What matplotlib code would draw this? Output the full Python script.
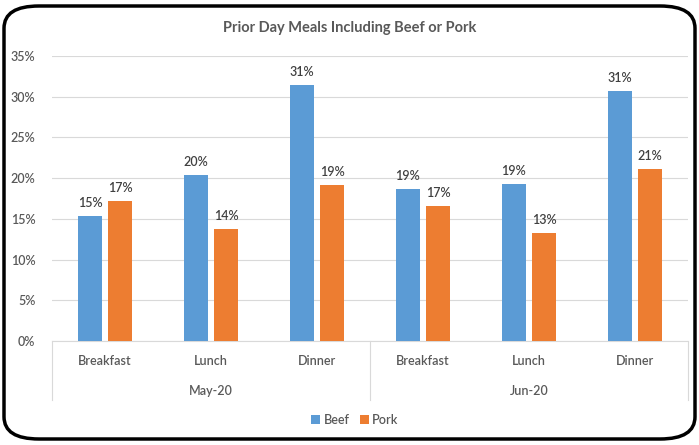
import matplotlib
matplotlib.use("Agg")
import matplotlib.pyplot as plt
import numpy as np
from matplotlib.patches import FancyBboxPatch
from matplotlib.ticker import PercentFormatter

meals = ["Breakfast", "Lunch", "Dinner", "Breakfast", "Lunch", "Dinner"]
months = ["May-20", "Jun-20"]
beef = [15.4, 20.4, 31.4, 18.7, 19.3, 30.7]
pork = [17.2, 13.7, 19.2, 16.6, 13.3, 21.1]

plt.rcParams["font.family"] = ["Lato", "DejaVu Sans"]
plt.rcParams["font.weight"] = "semibold"
BLUE, ORANGE, GRID, TXT = "#5B9BD5", "#ED7D31", "#D9D9D9", "#595959"

fig = plt.figure(figsize=(6.99, 4.45), dpi=100)
ax = fig.add_axes([52 / 699, 1 - 341 / 445, 636 / 699, 285 / 445])

x = np.arange(len(meals))
w = 0.225; off = 0.142
b1 = ax.bar(x - off, beef, w, color=BLUE, label="Beef", zorder=3)
b2 = ax.bar(x + off, pork, w, color=ORANGE, label="Pork", zorder=3)
for bars in (b1, b2):
    for r in bars:
        ax.annotate(f"{r.get_height():.0f}%", (r.get_x() + r.get_width() / 2, r.get_height()),
                    xytext=(0, 5), textcoords="offset points", ha="center", va="bottom",
                    fontsize=9, color="#404040")

ax.set_xlim(-0.5, len(meals) - 0.5)
ax.set_ylim(0, 35)
ax.set_yticks(np.arange(0, 36, 5))
ax.yaxis.set_major_formatter(PercentFormatter(decimals=0))
ax.tick_params(axis="y", length=0, labelsize=9, labelcolor=TXT, pad=12)
ax.set_xticks([])
ax.grid(axis="y", color=GRID, lw=0.8, zorder=0)
for s in ["top", "right", "left"]:
    ax.spines[s].set_visible(False)
ax.spines["bottom"].set_color(GRID)

# category labels + month groups below axis
trans = ax.get_xaxis_transform()
for i, m in enumerate(meals):
    ax.text(i, -0.07, m, transform=trans, ha="center", va="center", fontsize=9, color=TXT)
for j, mo in enumerate(months):
    ax.text(3 * j + 1, -0.175, mo, transform=trans, ha="center", va="center", fontsize=9, color=TXT)
for xv in (-0.5, 2.5, 5.5):
    ax.plot([xv, xv], [0, -59 / 285], transform=trans, color=GRID, lw=0.8, clip_on=False)

fig.text(0.5, 1 - 28 / 445, "Prior Day Meals Including Beef or Pork", ha="center", va="center",
         fontsize=10.5, color=TXT, fontweight="bold")
fig.legend(handles=[b1, b2], loc="center", bbox_to_anchor=(355 / 699, 1 - 420 / 445), ncol=2,
           frameon=False, fontsize=9, handlelength=0.7, handleheight=0.7, handletextpad=0.3,
           columnspacing=0.8, labelcolor=TXT)

fig.patches.append(FancyBboxPatch((4 / 699, 6 / 445), 691 / 699, 433 / 445,
                                  boxstyle="round,pad=0,rounding_size=0.05",
                                  transform=fig.transFigure, fill=False, ec="black", lw=2.5))

fig.savefig("out.png", dpi=100)
